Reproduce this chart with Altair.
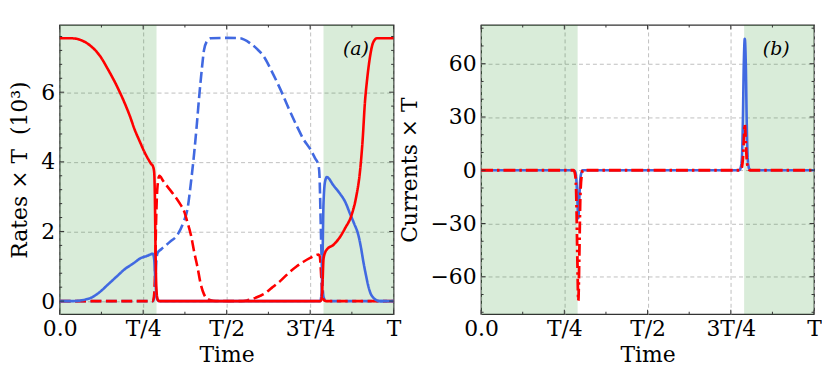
import altair as alt
import pandas as pd

# ---------------- shared axis data ----------------
X_MAJOR = [0.0, 0.25, 0.5, 0.75, 1.0]
X_LABELS = ["0.0", "T/4", "T/2", "3T/4", "T"]
X_MINOR = [0.125, 0.375, 0.625, 0.875]

SHADE_START = [0.0, 0.79]
SHADE_END = [0.29, 1.0]

# ---------------- panel (a): rates x T (10^3) ----------------
A_Y_MAJOR = [0, 2, 4, 6]
A_Y_MINOR = [0.4, 0.8, 1.2, 1.6, 2.4, 2.8, 3.2, 3.6, 4.4, 4.8, 5.2, 5.6, 6.4, 6.8, 7.2, 7.6]
A_Y_DOMAIN = [-0.377, 7.93]

red_solid_t = [0, 0.03, 0.046, 0.07, 0.095, 0.12, 0.145, 0.17, 0.194, 0.21, 0.224, 0.24, 0.254,
               0.265, 0.274, 0.279, 0.283, 0.285, 0.287, 0.289, 0.292, 0.296, 0.30, 0.5, 0.78,
               0.784, 0.787, 0.79, 0.795, 0.80, 0.82, 0.84, 0.855, 0.874, 0.888, 0.899, 0.907,
               0.914, 0.921, 0.929, 0.936, 0.943, 0.95, 0.97, 1.0]
red_solid_v = [7.55, 7.55, 7.54, 7.47, 7.31, 7.05, 6.65, 6.2, 5.7, 5.32, 4.94, 4.58, 4.28,
               4.08, 3.94, 3.88, 3.7, 3.0, 1.5, 0.5, 0.1, 0.01, 0, 0, 0,
               0.05, 0.5, 1.2, 1.4, 1.48, 1.62, 1.85, 2.1, 2.47, 3.0, 3.7, 4.6,
               5.7, 6.4, 7.0, 7.35, 7.5, 7.55, 7.55, 7.55]

blue_solid_t = [0, 0.04, 0.07, 0.095, 0.12, 0.145, 0.17, 0.194, 0.22, 0.244, 0.262, 0.279, 0.283,
                0.286, 0.289, 0.292, 0.296, 0.30, 0.5, 0.78, 0.784, 0.787, 0.79, 0.795, 0.80,
                0.82, 0.839, 0.855, 0.869, 0.882, 0.894, 0.902, 0.909, 0.917, 0.924, 0.931,
                0.939, 0.948, 0.96, 1.0]
blue_solid_v = [0, 0, 0.03, 0.1, 0.26, 0.48, 0.7, 0.91, 1.08, 1.24, 1.3, 1.36, 1.2,
                0.7, 0.25, 0.06, 0.01, 0, 0, 0, 0.2, 1.2, 2.8, 3.45, 3.56,
                3.32, 3.09, 2.85, 2.52, 2.22, 1.91, 1.55, 1.15, 0.75, 0.44, 0.22,
                0.1, 0.03, 0, 0]

blue_dashed_t = [0, 0.279, 0.283, 0.286, 0.289, 0.293, 0.304, 0.33, 0.353, 0.37, 0.383, 0.393,
                 0.403, 0.41, 0.418, 0.425, 0.432, 0.44, 0.452, 0.5, 0.54, 0.571, 0.59, 0.611,
                 0.635, 0.661, 0.685, 0.71, 0.73, 0.75, 0.765, 0.775, 0.778, 0.781, 0.784,
                 0.787, 0.79, 0.795, 0.80, 1.0]
blue_dashed_v = [0, 0, 0.1, 0.5, 1.1, 1.38, 1.49, 1.7, 1.91, 2.25, 2.66, 3.4,
                 4.28, 5.0, 5.9, 6.6, 7.2, 7.45, 7.55, 7.56, 7.55, 7.4, 7.25, 7.03,
                 6.6, 6.08, 5.55, 5.03, 4.65, 4.37, 4.1, 3.9, 3.6, 2.5, 1.3,
                 0.5, 0.12, 0.02, 0, 0]

red_dashed_t = [0, 0.279, 0.283, 0.286, 0.289, 0.293, 0.2986, 0.31, 0.325, 0.343, 0.36, 0.373,
                0.383, 0.393, 0.403, 0.413, 0.422, 0.432, 0.445, 0.46, 0.50, 0.54, 0.56, 0.58,
                0.60, 0.611, 0.635, 0.661, 0.685, 0.71, 0.73, 0.75, 0.765, 0.775, 0.779, 0.782,
                0.785, 0.788, 0.792, 0.80, 1.0]
red_dashed_v = [0, 0, 0.2, 1.0, 2.4, 3.3, 3.6, 3.45, 3.26, 3.04, 2.8, 2.57,
                2.25, 1.9, 1.4, 0.96, 0.5, 0.2, 0.05, 0.01, 0, 0, 0.02, 0.07,
                0.15, 0.2, 0.38, 0.58, 0.8, 1.0, 1.13, 1.24, 1.31, 1.34, 1.28, 0.9,
                0.4, 0.12, 0.02, 0, 0]

# ---------------- panel (b): currents x T ----------------
B_Y_MAJOR = [-60, -30, 0, 30, 60]
B_Y_MINOR = [-80, -70, -50, -40, -20, -10, 10, 20, 40, 50, 70, 80]
B_Y_DOMAIN = [-81.1, 81.8]

cur_blue_t = [0, 0.278, 0.283, 0.286, 0.289, 0.292, 0.295, 0.298, 0.302, 0.306, 0.775, 0.779,
              0.783, 0.786, 0.789, 0.792, 0.795, 0.798, 0.801, 0.805, 0.81, 1.0]
cur_blue_v = [0, 0, -1, -5, -16, -27, -16, -5, -1, 0, 0, 1,
              6, 25, 60, 74, 60, 25, 6, 1, 0, 0]

cur_red_t = [0, 0.278, 0.283, 0.286, 0.289, 0.292, 0.295, 0.298, 0.302, 0.306, 0.777, 0.782,
             0.786, 0.789, 0.792, 0.795, 0.798, 0.802, 0.807, 1.0]
cur_red_v = [0, 0, -3, -15, -48, -73.5, -48, -15, -3, 0, 0, 1,
             6, 16, 26, 16, 6, 1, 0, 0]

RED = "#ff0000"
BLUE = "#4169e1"
FRAME = "#333333"
W_A, W_B, H = 336, 335, 291
MAJ_LEN, MIN_LEN = 4.5, 2.5

label_expr = "[" + ",".join("'%s'" % s for s in X_LABELS) + "][round(datum.value*4)]"


def panel(series, y_domain, y_major, y_minor, y_title, tag, W):
    xsc = alt.Scale(domain=[0, 1], nice=False, zero=False)
    ysc = alt.Scale(domain=y_domain, nice=False, zero=False)
    xax = alt.Axis(values=X_MAJOR, labelExpr=label_expr, title="Time")
    yax = alt.Axis(values=y_major, format="d", title=y_title)

    shade = alt.Chart(pd.DataFrame({"t": SHADE_START, "b": SHADE_END})).mark_rect(
        color="#008000", opacity=0.15
    ).encode(
        x=alt.X("t:Q", scale=xsc, axis=xax),
        x2="b:Q",
        y=alt.value(0),
        y2=alt.value(H),
    )
    layers = [shade]
    for t, v, color, dash, width in series:
        df = pd.DataFrame({"t": t, "v": v})
        ch = alt.Chart(df).mark_line(
            color=color, strokeWidth=width, strokeDash=dash, interpolate="monotone",
            clip=True, strokeCap="butt"
        ).encode(
            x=alt.X("t:Q", scale=xsc, axis=xax),
            y=alt.Y("v:Q", scale=ysc, axis=yax),
        )
        layers.append(ch)

    def xt(vals, length, top):
        return alt.Chart(pd.DataFrame({"t": vals})).mark_rule(color=FRAME, strokeWidth=1).encode(
            x=alt.X("t:Q", scale=xsc, axis=xax),
            y=alt.value(0 if top else H),
            y2=alt.value(length if top else H - length),
        )

    def yt(vals, length, right):
        return alt.Chart(pd.DataFrame({"v": vals})).mark_rule(color=FRAME, strokeWidth=1).encode(
            y=alt.Y("v:Q", scale=ysc, axis=yax),
            x=alt.value(W if right else 0),
            x2=alt.value(W - length if right else length),
        )

    for top in (False, True):
        layers.append(xt(X_MAJOR, MAJ_LEN, top))
        layers.append(xt(X_MINOR, MIN_LEN, top))
    for right in (False, True):
        layers.append(yt(y_major, MAJ_LEN, right))
        layers.append(yt(y_minor, MIN_LEN, right))

    txt = alt.Chart(pd.DataFrame({"label": [tag]})).mark_text(
        font="DejaVu Serif", fontStyle="italic", fontSize=19, color="black"
    ).encode(text="label:N", x=alt.value(W - 38), y=alt.value(24))
    layers.append(txt)
    return alt.layer(*layers).properties(width=W, height=H)


left = panel(
    [
        (blue_dashed_t, blue_dashed_v, BLUE, [11, 4.5], 2.6),
        (red_dashed_t, red_dashed_v, RED, [11, 4.5], 2.6),
        (blue_solid_t, blue_solid_v, BLUE, [1, 0], 2.6),
        (red_solid_t, red_solid_v, RED, [1, 0], 2.6),
    ],
    A_Y_DOMAIN, A_Y_MAJOR, A_Y_MINOR, "Rates × T\u00a0\u00a0(10³)", "(a)", W_A,
)

right = panel(
    [
        (cur_blue_t, cur_blue_v, BLUE, [1, 0], 2.6),
        (cur_red_t, cur_red_v, RED, [12, 4, 2.5, 4], 2.8),
    ],
    B_Y_DOMAIN, B_Y_MAJOR, B_Y_MINOR, "Currents × T", "(b)", W_B,
)

chart = alt.hconcat(left, right, spacing=88, bounds="flush").properties(
    padding={"left": 0, "top": 14, "right": 0, "bottom": 0}
).configure_axis(
    labelFont="DejaVu Serif", titleFont="DejaVu Serif",
    labelFontSize=22, titleFontSize=22, titleFontWeight="normal",
    labelColor="black", titleColor="black",
    ticks=False, domain=False, grid=True,
    gridColor="#b0b0b0", gridDash=[4, 3], gridWidth=0.8,
    labelPadding=5, labelFlush=False, labelOverlap=False,
).configure_axisX(
    labelPadding=4, titlePadding=6,
).configure_axisY(
    titlePadding=9,
).configure_view(
    stroke=FRAME, strokeWidth=1.3,
)

chart.save("out.html", embed_options={"renderer": "svg", "actions": False})
